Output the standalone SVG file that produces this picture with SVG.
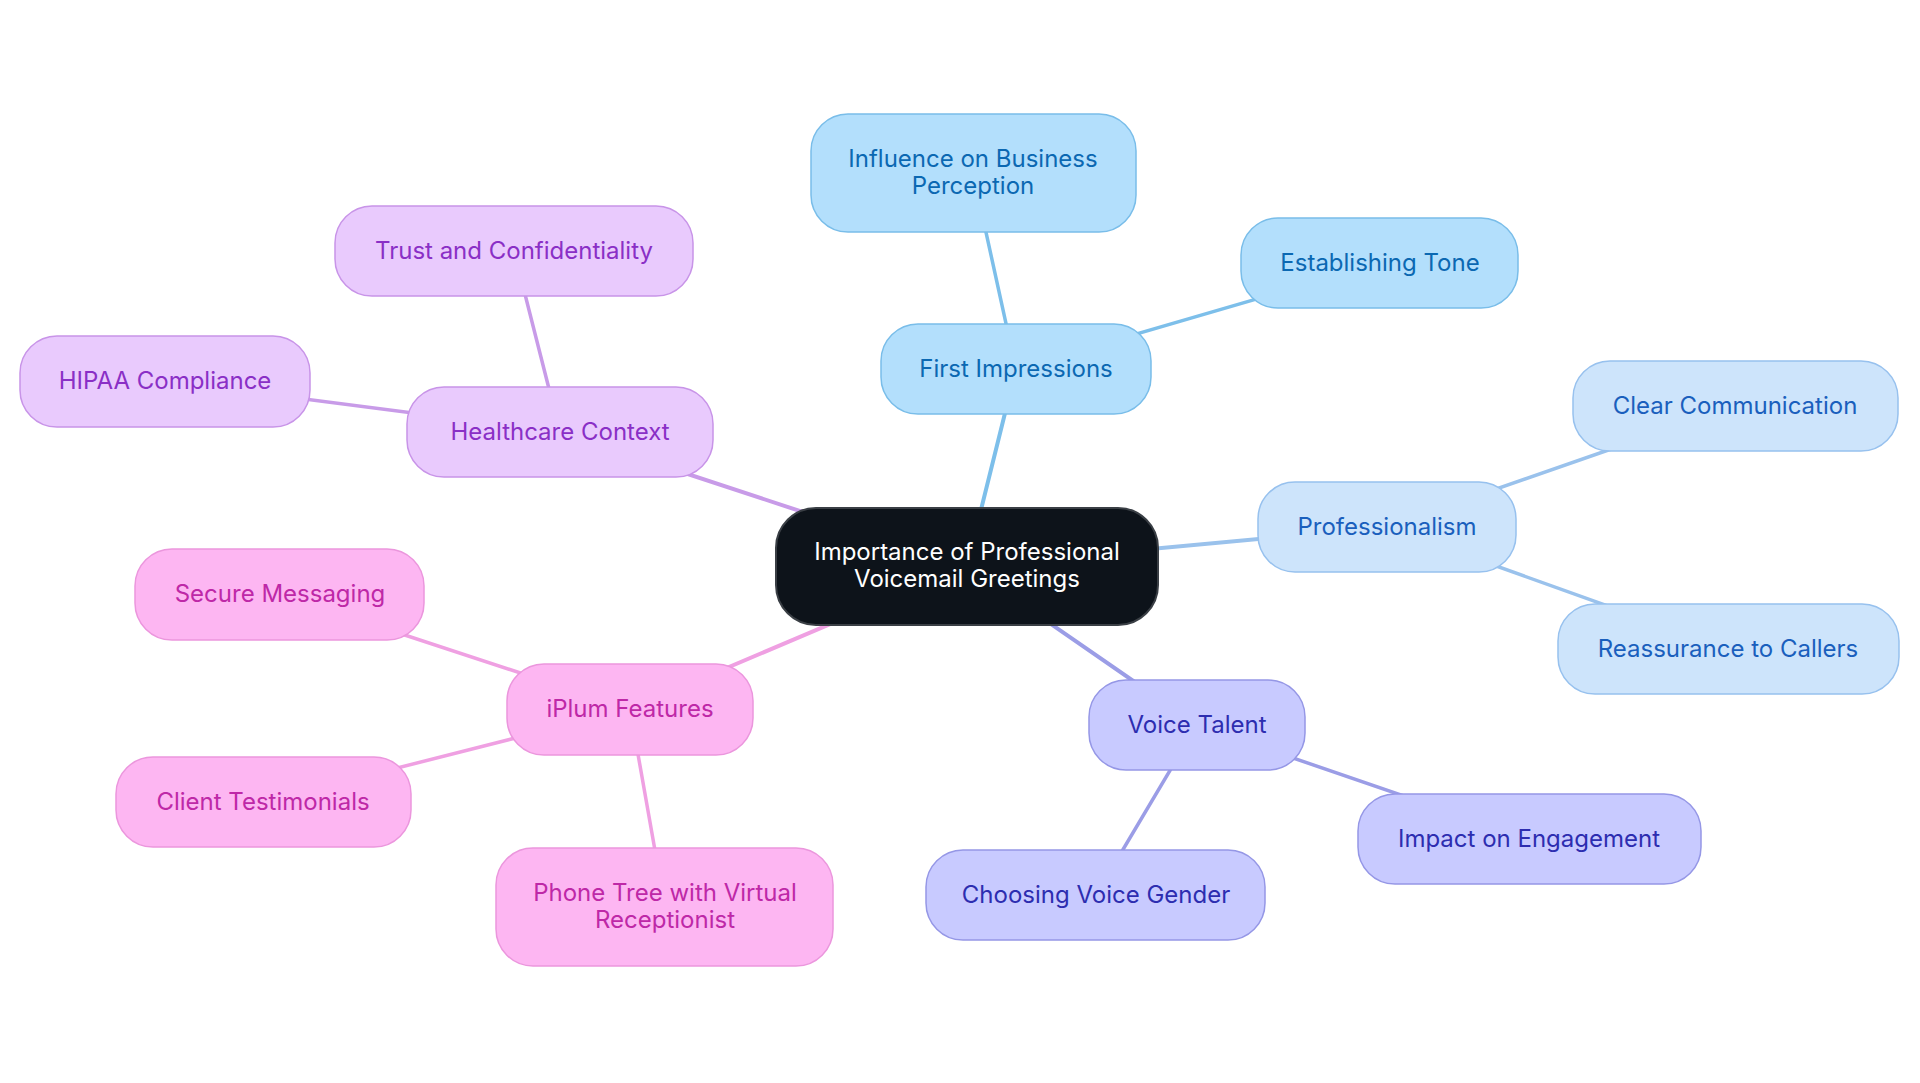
<svg xmlns="http://www.w3.org/2000/svg" width="1920" height="1083" viewBox="0 0 1920 1083">
<style>
text{font-family:Inter,"Noto Sans","Liberation Sans",sans-serif;font-size:24px;text-anchor:middle}
.e{fill:none;stroke-linecap:round}
.e0{stroke-width:4}
.e1{stroke-width:3.5}
.b rect{fill:#b3dffc;stroke:#79bde9;stroke-width:1.5}
.b text{fill:#0b68b2}
.p rect{fill:#cde4fb;stroke:#97c1ee;stroke-width:1.5}
.p text{fill:#1a5fbd}
.v rect{fill:#c8caff;stroke:#9597e6;stroke-width:1.5}
.v text{fill:#2d2db0}
.k rect{fill:#fdb6f2;stroke:#eb96dd;stroke-width:1.5}
.k text{fill:#be28a7}
.u rect{fill:#e9cafd;stroke:#c894e8;stroke-width:1.5}
.u text{fill:#8a2fc6}
.r rect{fill:#0d131a;stroke:#3a3f45;stroke-width:2}
.r text{fill:#ffffff}
</style>
<rect width="1920" height="1083" fill="#ffffff"/>
<g id="connectors">
<line class="e e0" stroke="#7dbfea" x1="967" y1="566" x2="1016" y2="369"/>
<line class="e e1" stroke="#7dbfea" x1="1016" y1="369" x2="973" y2="173"/>
<line class="e e1" stroke="#7dbfea" x1="1016" y1="369" x2="1380" y2="263"/>
<line class="e e0" stroke="#9ac2ec" x1="967" y1="566" x2="1387" y2="527"/>
<line class="e e1" stroke="#9ac2ec" x1="1387" y1="527" x2="1735" y2="406"/>
<line class="e e1" stroke="#9ac2ec" x1="1387" y1="527" x2="1728" y2="649"/>
<line class="e e0" stroke="#9b9de6" x1="967" y1="566" x2="1197" y2="725"/>
<line class="e e1" stroke="#9b9de6" x1="1197" y1="725" x2="1096" y2="895"/>
<line class="e e1" stroke="#9b9de6" x1="1197" y1="725" x2="1529" y2="839"/>
<line class="e e0" stroke="#efa0e2" x1="967" y1="566" x2="630" y2="709"/>
<line class="e e1" stroke="#efa0e2" x1="630" y1="709" x2="280" y2="594"/>
<line class="e e1" stroke="#efa0e2" x1="630" y1="709" x2="263" y2="802"/>
<line class="e e1" stroke="#efa0e2" x1="630" y1="709" x2="665" y2="907"/>
<line class="e e0" stroke="#c89be8" x1="967" y1="566" x2="560" y2="432"/>
<line class="e e1" stroke="#c89be8" x1="560" y1="432" x2="514" y2="251"/>
<line class="e e1" stroke="#c89be8" x1="560" y1="432" x2="165" y2="381"/>
</g>
<g id="root" class="r">
<rect x="776" y="508" width="382" height="117" rx="40"/>
<text x="967" y="560">Importance of Professional</text>
<text x="967" y="587">Voicemail Greetings</text>
</g>
<g id="first-impressions" class="b">
<rect x="881" y="324" width="270" height="90" rx="37"/>
<text x="1016" y="377">First Impressions</text>
</g>
<g id="influence" class="b">
<rect x="811" y="114" width="325" height="118" rx="37"/>
<text x="973" y="167">Influence on Business</text>
<text x="973" y="194">Perception</text>
</g>
<g id="establishing-tone" class="b">
<rect x="1241" y="218" width="277" height="90" rx="37"/>
<text x="1380" y="271">Establishing Tone</text>
</g>
<g id="professionalism" class="p">
<rect x="1258" y="482" width="258" height="90" rx="37"/>
<text x="1387" y="535">Professionalism</text>
</g>
<g id="clear-communication" class="p">
<rect x="1573" y="361" width="325" height="90" rx="37"/>
<text x="1735" y="414">Clear Communication</text>
</g>
<g id="reassurance" class="p">
<rect x="1558" y="604" width="341" height="90" rx="37"/>
<text x="1728" y="657">Reassurance to Callers</text>
</g>
<g id="voice-talent" class="v">
<rect x="1089" y="680" width="216" height="90" rx="37"/>
<text x="1197" y="733">Voice Talent</text>
</g>
<g id="choosing-voice-gender" class="v">
<rect x="926" y="850" width="339" height="90" rx="37"/>
<text x="1096" y="903">Choosing Voice Gender</text>
</g>
<g id="impact-engagement" class="v">
<rect x="1358" y="794" width="343" height="90" rx="37"/>
<text x="1529" y="847">Impact on Engagement</text>
</g>
<g id="iplum-features" class="k">
<rect x="507" y="664" width="246" height="91" rx="37"/>
<text x="630" y="717">iPlum Features</text>
</g>
<g id="secure-messaging" class="k">
<rect x="135" y="549" width="289" height="91" rx="37"/>
<text x="280" y="602">Secure Messaging</text>
</g>
<g id="client-testimonials" class="k">
<rect x="116" y="757" width="295" height="90" rx="37"/>
<text x="263" y="810">Client Testimonials</text>
</g>
<g id="phone-tree" class="k">
<rect x="496" y="848" width="337" height="118" rx="37"/>
<text x="665" y="901">Phone Tree with Virtual</text>
<text x="665" y="928">Receptionist</text>
</g>
<g id="healthcare-context" class="u">
<rect x="407" y="387" width="306" height="90" rx="37"/>
<text x="560" y="440">Healthcare Context</text>
</g>
<g id="trust-confidentiality" class="u">
<rect x="335" y="206" width="358" height="90" rx="37"/>
<text x="514" y="259">Trust and Confidentiality</text>
</g>
<g id="hipaa" class="u">
<rect x="20" y="336" width="290" height="91" rx="37"/>
<text x="165" y="389">HIPAA Compliance</text>
</g>
</svg>
